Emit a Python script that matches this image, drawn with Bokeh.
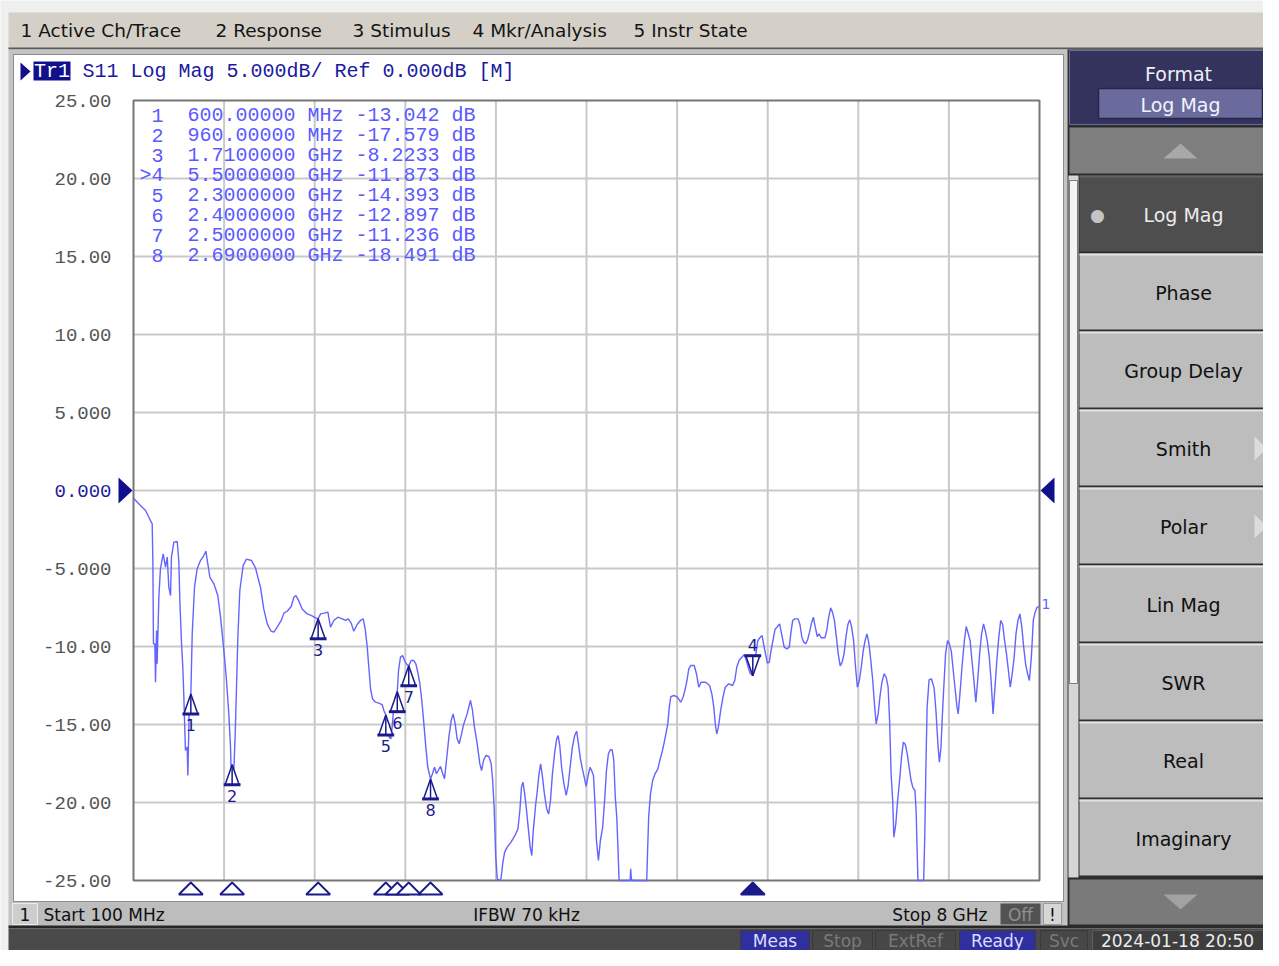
from bokeh.plotting import figure
from bokeh.models import Range1d, Label, BoxAnnotation, PolyAnnotation
from bokeh.embed import file_html
from bokeh.resources import INLINE
from bokeh.core.properties import value

# ---------------- data ----------------
START_GHZ = 0.1
STOP_GHZ = 8.0
REF_DB = 0.0
SCALE_DB = 5.0
NDIV_X = 10
NDIV_Y = 10
Y_TICKS = [25, 20, 15, 10, 5, 0, -5, -10, -15, -20, -25]

FREQ_GHZ = [
    0.100, 0.161, 0.205, 0.248, 0.263, 0.269, 0.274, 0.286, 0.292, 0.301,
    0.306, 0.321, 0.335, 0.359, 0.379, 0.394, 0.408, 0.423, 0.431, 0.452,
    0.481, 0.495, 0.504, 0.519, 0.530, 0.539, 0.553, 0.568, 0.574, 0.585,
    0.600, 0.612, 0.632, 0.655, 0.684, 0.713, 0.731, 0.748, 0.766, 0.801,
    0.835, 0.859, 0.888, 0.911, 0.931, 0.946, 0.952, 0.960, 0.975, 0.987,
    0.998, 1.010, 1.027, 1.056, 1.085, 1.129, 1.164, 1.184, 1.207, 1.236,
    1.266, 1.300, 1.324, 1.353, 1.388, 1.411, 1.440, 1.475, 1.498, 1.516,
    1.542, 1.571, 1.614, 1.649, 1.687, 1.710, 1.731, 1.765, 1.795, 1.818,
    1.847, 1.882, 1.920, 1.949, 1.972, 1.998, 2.021, 2.050, 2.079, 2.103,
    2.120, 2.138, 2.152, 2.167, 2.184, 2.210, 2.239, 2.268, 2.283, 2.300,
    2.318, 2.329, 2.344, 2.355, 2.367, 2.382, 2.400, 2.411, 2.428, 2.446,
    2.463, 2.486, 2.500, 2.521, 2.544, 2.562, 2.579, 2.597, 2.614, 2.632,
    2.649, 2.666, 2.690, 2.707, 2.725, 2.742, 2.757, 2.777, 2.797, 2.812,
    2.829, 2.850, 2.870, 2.887, 2.905, 2.922, 2.940, 2.957, 2.980, 3.009,
    3.038, 3.056, 3.073, 3.097, 3.120, 3.135, 3.152, 3.172, 3.199, 3.219,
    3.232, 3.245, 3.259, 3.272, 3.285, 3.305, 3.319, 3.336, 3.359, 3.392,
    3.426, 3.452, 3.469, 3.483, 3.496, 3.509, 3.526, 3.543, 3.559, 3.573,
    3.586, 3.606, 3.623, 3.636, 3.650, 3.663, 3.683, 3.703, 3.720, 3.736,
    3.753, 3.773, 3.790, 3.803, 3.817, 3.833, 3.853, 3.873, 3.890, 3.907,
    3.927, 3.947, 3.964, 3.980, 3.997, 4.014, 4.030, 4.047, 4.064, 4.081,
    4.097, 4.111, 4.124, 4.137, 4.154, 4.171, 4.191, 4.208, 4.224, 4.241,
    4.258, 4.274, 4.288, 4.301, 4.314, 4.324, 4.334, 4.431, 4.435, 4.441,
    4.448, 4.575, 4.582, 4.592, 4.608, 4.628, 4.648, 4.672, 4.689, 4.709,
    4.725, 4.742, 4.759, 4.772, 4.785, 4.812, 4.842, 4.872, 4.892, 4.909,
    4.926, 4.942, 4.959, 4.989, 5.009, 5.029, 5.049, 5.089, 5.123, 5.143,
    5.160, 5.173, 5.186, 5.200, 5.220, 5.240, 5.260, 5.290, 5.323, 5.343,
    5.360, 5.380, 5.410, 5.427, 5.444, 5.460, 5.477, 5.500, 5.514, 5.527,
    5.544, 5.561, 5.581, 5.594, 5.611, 5.627, 5.644, 5.657, 5.677, 5.694,
    5.711, 5.734, 5.751, 5.774, 5.798, 5.818, 5.831, 5.848, 5.865, 5.895,
    5.911, 5.928, 5.945, 5.961, 5.978, 5.995, 6.012, 6.028, 6.045, 6.062,
    6.078, 6.095, 6.129, 6.145, 6.162, 6.179, 6.195, 6.212, 6.229, 6.245,
    6.262, 6.279, 6.296, 6.312, 6.329, 6.346, 6.362, 6.379, 6.396, 6.412,
    6.429, 6.446, 6.463, 6.479, 6.496, 6.513, 6.529, 6.546, 6.563, 6.576,
    6.593, 6.610, 6.626, 6.646, 6.663, 6.680, 6.693, 6.706, 6.720, 6.730,
    6.747, 6.763, 6.780, 6.797, 6.813, 6.830, 6.847, 6.863, 6.880, 6.897,
    6.914, 6.924, 6.930, 6.940, 6.990, 7.000, 7.010, 7.020, 7.037, 7.057,
    7.081, 7.097, 7.114, 7.127, 7.141, 7.151, 7.164, 7.181, 7.198, 7.214,
    7.231, 7.248, 7.264, 7.281, 7.291, 7.304, 7.324, 7.345, 7.361, 7.378,
    7.395, 7.411, 7.428, 7.445, 7.461, 7.478, 7.495, 7.512, 7.528, 7.545,
    7.562, 7.578, 7.595, 7.612, 7.628, 7.645, 7.662, 7.679, 7.695, 7.712,
    7.729, 7.745, 7.762, 7.779, 7.795, 7.812, 7.829, 7.846, 7.862, 7.879,
    7.896, 7.912, 7.929, 7.946, 7.962, 7.979, 8.000,
]

S11_DB = [
    -0.50, -0.96, -1.28, -1.92, -2.14, -4.59, -9.83, -9.83, -12.29, -8.98,
    -11.11, -6.84, -5.02, -4.06, -4.91, -4.27, -6.20, -6.73, -4.27, -3.31,
    -3.27, -4.49, -7.05, -9.83, -11.33, -13.25, -16.67, -16.45, -18.27, -14.32,
    -13.04, -9.19, -6.20, -5.02, -4.49, -4.17, -3.89, -4.70, -5.56, -5.98,
    -6.73, -8.12, -10.26, -12.18, -14.32, -16.45, -18.16, -17.58, -17.95, -15.60,
    -12.61, -9.40, -6.41, -4.81, -4.40, -4.49, -4.96, -5.56, -6.20, -7.59,
    -8.55, -9.02, -9.08, -8.76, -8.33, -7.86, -7.74, -7.44, -6.84, -6.73,
    -7.09, -7.59, -7.91, -8.01, -8.16, -8.22, -7.91, -7.86, -7.80, -8.76,
    -8.33, -8.12, -8.23, -8.33, -8.23, -8.50, -9.02, -8.59, -8.33, -8.23,
    -8.87, -10.04, -11.33, -12.71, -13.35, -13.57, -13.63, -13.72, -14.10, -14.39,
    -15.17, -15.81, -15.92, -15.17, -14.10, -13.25, -12.90, -11.54, -10.68, -10.58,
    -10.90, -11.18, -11.24, -10.90, -10.90, -11.11, -11.65, -12.39, -13.46, -14.96,
    -16.45, -17.74, -18.49, -18.16, -17.74, -18.16, -17.95, -17.69, -18.16, -18.48,
    -17.31, -15.81, -14.74, -14.32, -14.96, -15.92, -16.24, -15.71, -14.96, -14.32,
    -13.46, -14.10, -15.17, -16.24, -17.52, -17.95, -17.31, -16.99, -17.05, -17.52,
    -18.59, -20.41, -23.51, -24.89, -25.00, -24.89, -23.93, -23.18, -22.86, -22.54,
    -22.11, -21.69, -20.51, -19.02, -18.70, -19.34, -20.41, -21.69, -22.86, -23.40,
    -21.80, -20.19, -19.12, -18.16, -17.52, -18.16, -19.45, -20.41, -20.73, -19.87,
    -18.16, -16.77, -15.92, -15.71, -16.35, -17.74, -18.80, -19.55, -18.91, -17.74,
    -16.45, -15.71, -15.43, -16.24, -17.20, -17.84, -18.38, -18.97, -18.27, -17.74,
    -17.99, -18.27, -20.09, -22.44, -23.72, -22.44, -21.58, -19.87, -17.95, -16.88,
    -16.62, -16.62, -17.31, -19.66, -20.94, -22.86, -25.00, -25.00, -24.25, -24.89,
    -25.00, -25.00, -23.29, -20.94, -19.45, -18.55, -18.16, -17.84, -17.31, -16.77,
    -16.24, -15.60, -14.96, -13.89, -13.21, -13.14, -13.25, -13.57, -13.25, -12.78,
    -12.18, -11.43, -11.22, -11.22, -11.75, -12.61, -12.29, -12.29, -12.50, -13.04,
    -13.89, -14.96, -15.60, -15.17, -14.10, -13.25, -12.61, -12.39, -12.50, -12.18,
    -11.33, -10.90, -10.64, -10.51, -10.90, -11.33, -11.71, -11.87, -11.33, -10.47,
    -9.62, -9.44, -9.30, -9.83, -10.47, -11.07, -11.00, -10.36, -9.57, -8.89,
    -8.76, -8.55, -9.19, -10.04, -10.15, -10.04, -9.19, -8.33, -8.23, -8.23,
    -8.59, -9.40, -9.72, -9.83, -9.57, -9.08, -8.50, -8.12, -8.76, -9.36,
    -9.19, -9.44, -9.44, -8.97, -8.12, -7.52, -7.80, -8.33, -9.40, -10.47,
    -11.24, -11.00, -10.47, -9.40, -8.59, -8.29, -8.76, -9.62, -11.33, -12.61,
    -12.18, -11.33, -10.26, -9.62, -9.19, -9.83, -10.90, -12.18, -13.89, -14.96,
    -14.32, -13.14, -12.29, -11.75, -11.97, -12.61, -14.74, -18.16, -19.87, -22.22,
    -21.37, -19.87, -18.59, -17.09, -16.13, -16.28, -16.88, -17.74, -18.59, -19.06,
    -19.23, -20.51, -22.22, -25.00, -25.00, -22.01, -17.52, -13.89, -12.14, -12.07,
    -12.65, -14.10, -16.24, -17.41, -16.45, -14.74, -12.82, -10.47, -9.62, -9.83,
    -10.30, -11.54, -12.71, -13.89, -14.32, -13.25, -11.33, -9.62, -8.72, -9.15,
    -9.62, -10.90, -12.18, -13.57, -12.18, -10.47, -9.19, -8.55, -9.02, -9.66,
    -10.68, -12.18, -14.32, -12.61, -10.90, -9.40, -8.33, -8.59, -9.57, -10.47,
    -11.54, -12.61, -11.75, -10.68, -9.19, -8.33, -7.91, -8.76, -10.04, -11.11,
    -11.75, -12.18, -10.68, -8.33, -7.80, -7.48, -7.44,
]

MKR_NUM = [1, 2, 3, 4, 5, 6, 7, 8]
MKR_FREQ_GHZ = [0.60, 0.96, 1.71, 5.50, 2.30, 2.40, 2.50, 2.69]
MKR_DB = [-13.042, -17.579, -8.2233, -11.873, -14.393, -12.897, -11.236, -18.491]
ACTIVE_MKR = 4

MENU_ITEMS = ["1 Active Ch/Trace", "2 Response", "3 Stimulus", "4 Mkr/Analysis", "5 Instr State"]
SOFTKEYS = ["Log Mag", "Phase", "Group Delay", "Smith", "Polar", "Lin Mag", "SWR", "Real", "Imaginary"]
SOFTKEY_ARROWS = ["Smith", "Polar"]
SELECTED_KEY = "Log Mag"
STATUS_ITEMS = [("Meas", True), ("Stop", False), ("ExtRef", False), ("Ready", True), ("Svc", False)]
DATE_TEXT = "2024-01-18 20:50"
IFBW_TEXT = "IFBW 70 kHz"

assert len(FREQ_GHZ) == len(S11_DB)

# ---------------- layout (pixel positions of the screenshot) ----------------
W, H = 1263, 950          # canvas size
GX0, GX1 = 133, 1039      # grid box in canvas pixels
GY0, GY1 = 100, 880

Y_TOP = REF_DB + SCALE_DB * NDIV_Y / 2
Y_BOT = REF_DB - SCALE_DB * NDIV_Y / 2
KX = (STOP_GHZ - START_GHZ) / (GX1 - GX0)   # GHz per pixel
KY = (Y_TOP - Y_BOT) / (GY1 - GY0)          # dB per pixel

x_range = Range1d(START_GHZ - GX0 * KX, STOP_GHZ + (W - GX1) * KX)
y_range = Range1d(Y_BOT - (H - GY1) * KY, Y_TOP + GY0 * KY)

p = figure(width=W, height=H, x_range=x_range, y_range=y_range,
           x_axis_type=None, y_axis_type=None, toolbar_location=None,
           output_backend="svg", min_border=0)
p.outline_line_color = None
p.background_fill_color = "#efefef"
p.border_fill_color = "#efefef"


def sx(X):
    return X


def sy(Y):
    return H - Y


def box(X0, Y0, X1, Y1, fill, line=None, lw=1, level="underlay"):
    p.add_layout(BoxAnnotation(left=sx(X0), right=sx(X1), top=sy(Y0), bottom=sy(Y1),
                               left_units="screen", right_units="screen",
                               top_units="screen", bottom_units="screen",
                               fill_color=fill, fill_alpha=1.0,
                               line_color=line, line_alpha=1.0, line_width=lw, level=level))


def poly(pts, fill, line=None, level="underlay"):
    p.add_layout(PolyAnnotation(xs=[sx(a) for a, b in pts], ys=[sy(b) for a, b in pts],
                                xs_units="screen", ys_units="screen",
                                fill_color=fill, fill_alpha=1.0, line_color=line, level=level))


def txt(X, Y, s, size, color, font="DejaVu Sans", align="left"):
    p.add_layout(Label(x=sx(X), y=sy(Y), x_units="screen", y_units="screen", text=s,
                       text_font=font, text_font_size=f"{size}px", text_color=color,
                       text_align=align, text_baseline="middle"))


# ---------------- window chrome ----------------
box(8, 12, W, 48, "#d4d0c8")                          # menu bar
box(8, 47, W, 49, "#5a5a5a")
for label, X in zip(MENU_ITEMS, [20, 215, 352, 472, 633]):
    txt(X, 30, label, 18.5, "#141414")

box(8, 49, 1067, 927, "#c4c4c4")                      # channel window frame
box(13, 54, 1063, 901, "#ffffff", line="#8c8c8c")    # white channel area
box(13, 902, 1063, 925, "#bdbdbd")                    # channel status bar
box(8, 925, W, 928, "#262626")
box(8, 928, W, H, "#4a4a4a")                          # instrument status bar

# channel status bar
box(12, 903, 37, 924, "#cdcdcd", line="#ececec")
txt(24.5, 914, "1", 17, "#101010", align="center")
txt(43, 914, f"Start {START_GHZ * 1000:.0f} MHz", 17, "#101010")
txt(526, 914, IFBW_TEXT, 17, "#101010", align="center")
txt(987, 914, f"Stop {STOP_GHZ:g} GHz", 17, "#101010", align="right")
box(1000, 903, 1040, 924, "#525252")
txt(1020, 914, "Off", 17, "#8e8e8e", align="center")
box(1043, 903, 1061, 924, "#d6d6d6", line="#9a9a9a")
txt(1052, 914, "!", 17, "#101010", align="center")

# instrument status bar
st_x = [(740, 809), (812, 872), (875, 955), (959, 1035), (1040, 1087)]
for (name, on), (a, b) in zip(STATUS_ITEMS, st_x):
    box(a, 930, b, H, "#2f2f9f" if on else "#474747", line="#3a3a3a")
    txt((a + b) / 2, 940, name, 17, "#dcdcff" if on else "#7a7a7a", align="center")
box(1092, 930, W, H, "#3e3e3e", line="#5c5c5c")
txt(1177, 940, DATE_TEXT, 17, "#ececec", align="center")

# softkey panel
box(1067, 49, W, 927, "#2c2c2c")
box(1069, 50, W, 124, "#33335e", line="#6c6c9c")
txt(1178, 73, "Format", 19, "#eeeef8", align="center")
box(1098, 88, 1262, 118, "#6a6a9c", line="#26264c", lw=1.5)
txt(1180, 104, SELECTED_KEY, 19, "#f2f2ff", align="center")
box(1069, 127, W, 173, "#7e7e7e")
poly([(1163, 158), (1197, 158), (1180, 143)], "#a8a8a8")
box(1068, 175, 1078, 877, "#d6d6d6")
box(1069, 180, 1077, 683, "#f4f4f4", line="#7c7c7c")
for i, key in enumerate(SOFTKEYS):
    top = 175 + i * 78
    sel = key == SELECTED_KEY
    box(1079, top, W, top + 76, "#4e4e4e" if sel else "#bdbdbd")
    box(1079, top, W, top + 2, "#646464" if sel else "#e2e2e2")
    txt(1183, top + 39, key, 19, "#ececec" if sel else "#101010", align="center")
    if sel:
        txt(1097, top + 39, "\u25cf", 17, "#c4c4c4", align="center")
    if key in SOFTKEY_ARROWS:
        poly([(1254, top + 27), (1254, top + 51), (1266, top + 39)], "#dcdcdc")
box(1069, 879, W, 924, "#7a7a7a")
poly([(1163, 894), (1197, 894), (1180, 909)], "#a2a2a2")

# trace header
poly([(20, 62), (20, 80), (30, 71)], "#10108c")
box(33, 61, 70, 80, "#10108c")
txt(51.5, 70.5, "Tr1", 20, "#ffffff", font="Liberation Mono", align="center")
txt(82, 70.5, f"S11 Log Mag {SCALE_DB:.3f}dB/ Ref {REF_DB:.3f}dB [M]", 20, "#1a1aa0",
    font="Liberation Mono")

# y tick labels (data y, screen x)
for t in Y_TICKS:
    s = f"{t:.2f}" if abs(t) >= 10 else f"{t:.3f}"
    p.add_layout(Label(x=sx(111), y=t, x_units="screen", y_units="data", text=s,
                       text_font="Liberation Mono", text_font_size="19px",
                       text_color="#1c1ca0" if t == REF_DB else "#555555",
                       text_align="right", text_baseline="middle"))

# reference level arrows
d = 13 * KY
p.add_layout(PolyAnnotation(xs=[sx(118), sx(118), sx(132)], ys=[REF_DB + d, REF_DB - d, REF_DB],
                            xs_units="screen", ys_units="data", fill_color="#10108c",
                            fill_alpha=1.0, line_color=None))
p.add_layout(PolyAnnotation(xs=[sx(1054), sx(1054), sx(1040)], ys=[REF_DB + d, REF_DB - d, REF_DB],
                            xs_units="screen", ys_units="data", fill_color="#10108c",
                            fill_alpha=1.0, line_color=None))

# ---------------- graticule ----------------
dx = (STOP_GHZ - START_GHZ) / NDIV_X
vx = [START_GHZ + i * dx for i in range(1, NDIV_X)]
p.segment(x0=vx, y0=[Y_BOT] * len(vx), x1=vx, y1=[Y_TOP] * len(vx), line_color="#c9c9c9", line_width=2)
hy = [Y_BOT + j * SCALE_DB for j in range(1, NDIV_Y)]
p.segment(x0=[START_GHZ] * len(hy), y0=hy, x1=[STOP_GHZ] * len(hy), y1=hy, line_color="#c9c9c9", line_width=2)
p.quad(left=[START_GHZ], right=[STOP_GHZ], bottom=[Y_BOT], top=[Y_TOP], fill_color=None,
       line_color="#767676", line_width=2)

# ---------------- trace ----------------
p.line(FREQ_GHZ, S11_DB, line_color="#6464ff", line_width=1.4)
p.add_layout(Label(x=STOP_GHZ, y=S11_DB[-1] + 0.15, x_offset=2, text="1", text_font="DejaVu Sans",
                   text_font_size="14px", text_color="#6464ff", text_baseline="middle"))

# ---------------- markers ----------------
NAVY = "#1a1a8c"
hw, hh, loff = 7 * KX, 20 * KY, 31 * KY
txs, tys = [], []
bx0, bx1, by, lx, ly, ltxt = [], [], [], [], [], []
for n, f, v in zip(MKR_NUM, MKR_FREQ_GHZ, MKR_DB):
    sgn = 1 if n == ACTIVE_MKR else -1
    base = v + sgn * hh
    txs.append([f - hw, f + hw, f])
    tys.append([base, base, v])
    bx0.append(f - hw * 1.2); bx1.append(f + hw * 1.2); by.append(base)
    lx.append(f); ly.append(v + sgn * loff); ltxt.append(str(n))
p.patches(txs, tys, fill_color="#ffffff", line_color=NAVY, line_width=1.5)
p.segment(x0=MKR_FREQ_GHZ, y0=MKR_DB, x1=MKR_FREQ_GHZ, y1=by, line_color=NAVY, line_width=1.5)
p.segment(x0=bx0, y0=by, x1=bx1, y1=by, line_color=NAVY, line_width=3)
p.text(x=lx, y=ly, text=ltxt, text_font=value("DejaVu Sans"), text_font_size=value("16px"),
       text_color=NAVY, text_align="center", text_baseline="middle")

# stimulus markers under the grid
sw, a_top, a_bot = 12 * KX, Y_BOT - 2 * KY, Y_BOT - 14 * KY
order = sorted(range(len(MKR_NUM)), key=lambda i: MKR_NUM[i] == ACTIVE_MKR)
p.patches([[MKR_FREQ_GHZ[i] - sw, MKR_FREQ_GHZ[i] + sw, MKR_FREQ_GHZ[i]] for i in order],
          [[a_bot, a_bot, a_top] for i in order],
          fill_color=[NAVY if MKR_NUM[i] == ACTIVE_MKR else "#ffffff" for i in order],
          line_color=NAVY, line_width=1.8)

# marker table
for k, (n, f, v) in enumerate(zip(MKR_NUM, MKR_FREQ_GHZ, MKR_DB)):
    Y = 115 + 20 * k
    pre = (">" if n == ACTIVE_MKR else "") + str(n)
    fstr = f"{f * 1000:.5f} MHz" if f < 1 else f"{f:.7f} GHz"
    txt(163, Y, pre, 20, "#5a5aff", font="Liberation Mono", align="right")
    txt(187, Y, f"{fstr} {v:.5g} dB", 20, "#5a5aff", font="Liberation Mono")

open("out.html", "w").write(file_html(p, INLINE))
